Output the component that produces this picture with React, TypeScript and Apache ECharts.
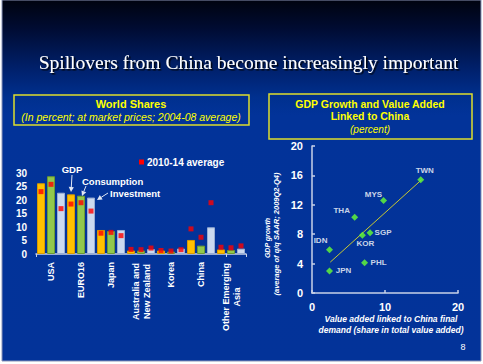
import React, { useEffect, useRef } from "react";
import * as echarts from "echarts";

// ---- Left panel: world shares (percent, 2004-08 average) ----
const regions = [
  "USA",
  "EURO16",
  "Japan",
  "Australia and\nNew Zealand",
  "Korea",
  "China",
  "Other Emerging\nAsia",
];
const measures = ["GDP", "Consumption", "Investment"];
const gdpShare = [26.2, 22.1, 8.9, 1.3, 1.3, 5.2, 1.7];
const consumptionShare = [28.8, 21.6, 8.5, 1.3, 0.9, 3.1, 1.5];
const investmentShare = [22.7, 20.9, 8.9, 1.8, 2.0, 9.9, 2.0];
// 2010-14 averages (red markers)
const gdpAvg1014 = [23.1, 18.5, 7.7, 1.7, 1.3, 9.3, 2.5];
const consumptionAvg1014 = [25.8, 19.0, 8.0, 1.6, 1.1, 6.2, 2.3];
const investmentAvg1014 = [16.8, 15.9, 6.8, 2.2, 1.6, 19.0, 3.0];
const shareAxisMax = 30;
const shareAxisStep = 5;

// ---- Right panel: GDP growth vs value added linked to China ----
const countries = ["TWN", "MYS", "THA", "SGP", "KOR", "IDN", "PHL", "JPN"];
const valueAddedChina = [14.9, 9.8, 5.85, 7.95, 6.9, 2.4, 7.2, 2.4];
const gdpGrowth = [15.4, 12.6, 10.3, 8.2, 7.85, 5.9, 4.1, 3.0];
const trendX = [2.5, 15.0];
const trendY = [4.2, 15.4];
const growthAxisMax = 20;
const growthAxisStep = 4;
const vaAxisMax = 20;
const vaAxisStep = 10;

// label placement (styling, not data)
const labelOffsets: Record<string, [number, number]> = {
  TWN: [4, -9],
  MYS: [-10, -6],
  THA: [-13, -7],
  SGP: [13, 0],
  KOR: [3, 8],
  IDN: [-9, -9],
  PHL: [14, 0],
  JPN: [14, 0],
};

const SANS = '"Liberation Sans", Arial, sans-serif';
const SERIF = '"Liberation Serif", "Times New Roman", serif';

function textWidth(text: string, font: string): number {
  const ctx = document.createElement("canvas").getContext("2d");
  if (!ctx) return text.length * 5;
  ctx.font = font;
  return ctx.measureText(text).width;
}

function arrow(x1: number, y1: number, x2: number, y2: number, color: string) {
  const ang = Math.atan2(y2 - y1, x2 - x1);
  const L = 5;
  const W = 2.6;
  const bx = x2 - L * Math.cos(ang);
  const by = y2 - L * Math.sin(ang);
  const px = -Math.sin(ang) * W;
  const py = Math.cos(ang) * W;
  return [
    {
      type: "line",
      z: 100,
      shape: { x1, y1, x2: bx, y2: by },
      style: { stroke: color, lineWidth: 1 },
    },
    {
      type: "polygon",
      z: 100,
      shape: {
        points: [
          [x2, y2],
          [bx + px, by + py],
          [bx - px, by - py],
        ],
      },
      style: { fill: color },
    },
  ];
}

export default function App() {
  const ref = useRef<HTMLDivElement>(null);

  useEffect(() => {
    if (!ref.current) return;
    const chart = echarts.init(ref.current, undefined, { renderer: "svg" });

    const labelFontSize = 9;
    const labelFontCss = `bold ${labelFontSize}px "Liberation Sans"`;
    const rich: Record<string, any> = {};
    regions.forEach((r, i) => {
      if (r.includes("\n")) {
        const w = Math.max(...r.split("\n").map((l) => textWidth(l, labelFontCss)));
        rich["m" + i] = {
          width: Math.ceil(w) + 1,
          align: "center",
          color: "#ffffff",
          fontFamily: SANS,
          fontWeight: "bold",
          fontSize: labelFontSize,
          lineHeight: 11,
        };
      }
    });

    const slotNames: string[] = [];
    const avgMarkers: number[] = [];
    regions.forEach((r, i) => {
      measures.forEach((m) => slotNames.push(r + " " + m));
      avgMarkers.push(gdpAvg1014[i], consumptionAvg1014[i], investmentAvg1014[i]);
    });

    const white = "#ffffff";
    const axisGrey = "#c8d2e8";

    const option: any = {
      animation: false,
      backgroundColor: "#ffffff",
      grid: [
        { left: 36, top: 173, width: 210, height: 81 },
        { left: 312, top: 146, width: 146, height: 147 },
      ],
      xAxis: [
        {
          gridIndex: 0,
          type: "category",
          data: regions,
          axisLine: { lineStyle: { color: axisGrey, width: 1.5 } },
          axisTick: { show: false },
          axisLabel: {
            rotate: 90,
            interval: 0,
            color: white,
            fontFamily: SANS,
            fontWeight: "bold",
            fontSize: labelFontSize,
            lineHeight: 11,
            margin: 8,
            formatter: (v: string) => {
              const i = regions.indexOf(v);
              if (v.includes("\n")) {
                return v
                  .split("\n")
                  .map((l) => `{m${i}|${l}}`)
                  .join("\n");
              }
              return v;
            },
            rich,
          },
        },
        {
          gridIndex: 0,
          type: "category",
          data: slotNames,
          position: "bottom",
          axisLine: { show: false },
          axisTick: { show: true, length: 3, lineStyle: { color: axisGrey } },
          axisLabel: { show: false },
        },
        {
          gridIndex: 1,
          type: "value",
          min: 0,
          max: vaAxisMax,
          interval: vaAxisStep,
          splitLine: { show: false },
          axisLine: { show: true, lineStyle: { color: axisGrey, width: 1.5 } },
          axisTick: { show: true, inside: true, length: 3, lineStyle: { color: axisGrey, width: 1.5 } },
          axisLabel: {
            color: white,
            fontFamily: SANS,
            fontWeight: "bold",
            fontSize: 11,
            margin: 8,
          },
        },
      ],
      yAxis: [
        {
          gridIndex: 0,
          type: "value",
          min: 0,
          max: shareAxisMax,
          interval: shareAxisStep,
          splitLine: { show: false },
          axisLine: { show: false },
          axisTick: { show: false },
          axisLabel: {
            color: white,
            fontFamily: SANS,
            fontWeight: "bold",
            fontSize: 10,
            margin: 9,
          },
        },
        {
          gridIndex: 1,
          type: "value",
          min: 0,
          max: growthAxisMax,
          interval: growthAxisStep,
          splitLine: { show: false },
          axisLine: { show: true, lineStyle: { color: axisGrey, width: 1.5 } },
          axisTick: { show: true, inside: true, length: 3, lineStyle: { color: axisGrey, width: 1.5 } },
          axisLabel: {
            color: white,
            fontFamily: SANS,
            fontWeight: "bold",
            fontSize: 11,
            margin: 9,
          },
        },
      ],
      series: [
        {
          name: "GDP",
          type: "bar",
          xAxisIndex: 0,
          yAxisIndex: 0,
          data: gdpShare,
          barWidth: 8,
          barGap: "25%",
          itemStyle: { color: "#ffc000", borderColor: "#d89b00", borderWidth: 1 },
        },
        {
          name: "Consumption",
          type: "bar",
          xAxisIndex: 0,
          yAxisIndex: 0,
          data: consumptionShare,
          barWidth: 8,
          barGap: "25%",
          itemStyle: { color: "#92c84c", borderColor: "#6c9a32", borderWidth: 1 },
        },
        {
          name: "Investment",
          type: "bar",
          xAxisIndex: 0,
          yAxisIndex: 0,
          data: investmentShare,
          barWidth: 8,
          barGap: "25%",
          itemStyle: { color: "#cbd9ef", borderColor: "#98add3", borderWidth: 1 },
        },
        {
          name: "2010-14 average",
          type: "scatter",
          xAxisIndex: 1,
          yAxisIndex: 0,
          data: avgMarkers,
          symbol: "rect",
          symbolSize: 5,
          itemStyle: { color: "#ff0000" },
          z: 5,
        },
        {
          name: "Trend",
          type: "line",
          xAxisIndex: 2,
          yAxisIndex: 1,
          data: trendX.map((x, i) => [x, trendY[i]]),
          symbol: "none",
          lineStyle: { color: "#c8c832", width: 1 },
          z: 2,
        },
        {
          name: "Countries",
          type: "scatter",
          xAxisIndex: 2,
          yAxisIndex: 1,
          symbol: "diamond",
          symbolSize: 7,
          itemStyle: { color: "#66ff33" },
          z: 4,
          data: countries.map((c, i) => ({
            name: c,
            value: [valueAddedChina[i], gdpGrowth[i]],
            label: {
              show: true,
              position: "inside",
              offset: labelOffsets[c] || [0, -8],
              formatter: c,
              color: white,
              fontFamily: SANS,
              fontWeight: "bold",
              fontSize: 8,
            },
          })),
        },
      ],
      graphic: [
        // slide background
        {
          type: "rect",
          z: -100,
          shape: { x: 2, y: 0, width: 479, height: 361 },
          style: {
            fill: {
              type: "linear",
              x: 0,
              y: 0,
              x2: 0,
              y2: 1,
              colorStops: [
                { offset: 0, color: "#00030f" },
                { offset: 0.08, color: "#000c33" },
                { offset: 0.2, color: "#002270" },
                { offset: 0.27, color: "#00308f" },
                { offset: 0.32, color: "#023399" },
                { offset: 1, color: "#033399" },
              ],
            },
            stroke: "#8a94b8",
            lineWidth: 1,
          },
        },
        // title
        {
          type: "text",
          z: 100,
          x: 248.5,
          y: 62,
          style: {
            text: "Spillovers from China become increasingly important",
            fill: white,
            font: `19.5px ${SERIF}`,
            textAlign: "center",
            textVerticalAlign: "middle",
            textShadowColor: "rgba(0,0,0,0.9)",
            textShadowBlur: 1,
            textShadowOffsetX: 1.5,
            textShadowOffsetY: 1.5,
          },
        },
        // left title box
        {
          type: "rect",
          z: 100,
          shape: { x: 14, y: 95, width: 235, height: 30 },
          style: { fill: "none", stroke: "#dede2c", lineWidth: 1.5 },
        },
        {
          type: "text",
          z: 100,
          x: 131,
          y: 103.5,
          style: {
            text: "World Shares",
            fill: "#ffff00",
            font: `bold 11px ${SANS}`,
            textAlign: "center",
            textVerticalAlign: "middle",
          },
        },
        {
          type: "text",
          z: 100,
          x: 131,
          y: 117,
          style: {
            text: "(In percent; at market prices; 2004-08 average)",
            fill: "#ffff00",
            font: `italic 10.5px ${SANS}`,
            textAlign: "center",
            textVerticalAlign: "middle",
          },
        },
        // right title box
        {
          type: "rect",
          z: 100,
          shape: { x: 269, y: 94, width: 203, height: 45 },
          style: { fill: "none", stroke: "#dede2c", lineWidth: 1.5 },
        },
        {
          type: "text",
          z: 100,
          x: 370,
          y: 103.5,
          style: {
            text: "GDP Growth and Value Added",
            fill: "#ffff00",
            font: `bold 10.5px ${SANS}`,
            textAlign: "center",
            textVerticalAlign: "middle",
          },
        },
        {
          type: "text",
          z: 100,
          x: 370,
          y: 116,
          style: {
            text: "Linked to China",
            fill: "#ffff00",
            font: `bold 10.5px ${SANS}`,
            textAlign: "center",
            textVerticalAlign: "middle",
          },
        },
        {
          type: "text",
          z: 100,
          x: 370,
          y: 129,
          style: {
            text: "(percent)",
            fill: "#ffff00",
            font: `italic 10px ${SANS}`,
            textAlign: "center",
            textVerticalAlign: "middle",
          },
        },
        // legend for red markers
        {
          type: "rect",
          z: 100,
          shape: { x: 139, y: 159.5, width: 5, height: 5 },
          style: { fill: "#ff0000" },
        },
        {
          type: "text",
          z: 100,
          x: 147,
          y: 162,
          style: {
            text: "2010-14 average",
            fill: white,
            font: `bold 10px ${SANS}`,
            textAlign: "left",
            textVerticalAlign: "middle",
          },
        },
        // bar annotations
        {
          type: "text",
          z: 100,
          x: 72,
          y: 169.5,
          style: {
            text: "GDP",
            fill: white,
            font: `bold 9.5px ${SANS}`,
            textAlign: "center",
            textVerticalAlign: "middle",
          },
        },
        {
          type: "text",
          z: 100,
          x: 82,
          y: 181.5,
          style: {
            text: "Consumption",
            fill: white,
            font: `bold 9.5px ${SANS}`,
            textAlign: "left",
            textVerticalAlign: "middle",
          },
        },
        {
          type: "text",
          z: 100,
          x: 110,
          y: 193.5,
          style: {
            text: "Investment",
            fill: white,
            font: `bold 9.5px ${SANS}`,
            textAlign: "left",
            textVerticalAlign: "middle",
          },
        },
        ...arrow(72, 175, 71, 192, "#dfe6f5"),
        ...arrow(86, 186, 82, 196, "#dfe6f5"),
        ...arrow(108, 193, 97, 200, "#dfe6f5"),
        // right y-axis name (rotated)
        {
          type: "text",
          z: 100,
          x: 267,
          y: 238,
          rotation: Math.PI / 2,
          style: {
            text: "GDP growth",
            fill: white,
            font: `italic bold 7px ${SANS}`,
            textAlign: "center",
            textVerticalAlign: "middle",
          },
        },
        {
          type: "text",
          z: 100,
          x: 276,
          y: 234,
          rotation: Math.PI / 2,
          style: {
            text: "(average of q/q SAAR; 2009Q2-Q4)",
            fill: white,
            font: `italic bold 7.5px ${SANS}`,
            textAlign: "center",
            textVerticalAlign: "middle",
          },
        },
        // right x-axis name
        {
          type: "text",
          z: 100,
          x: 391,
          y: 319,
          style: {
            text: "Value added linked to China final",
            fill: white,
            font: `italic bold 8.5px ${SANS}`,
            textAlign: "center",
            textVerticalAlign: "middle",
          },
        },
        {
          type: "text",
          z: 100,
          x: 391,
          y: 329.5,
          style: {
            text: "demand (share in total value added)",
            fill: white,
            font: `italic bold 8.5px ${SANS}`,
            textAlign: "center",
            textVerticalAlign: "middle",
          },
        },
        // page number
        {
          type: "text",
          z: 100,
          x: 463,
          y: 347,
          style: {
            text: "8",
            fill: white,
            font: `9px ${SANS}`,
            textAlign: "center",
            textVerticalAlign: "middle",
          },
        },
      ],
    };

    chart.setOption(option);
    return () => chart.dispose();
  }, []);

  return (
    <div
      ref={ref}
      style={{ position: "absolute", left: 0, top: 0, width: 483, height: 364 }}
    />
  );
}
